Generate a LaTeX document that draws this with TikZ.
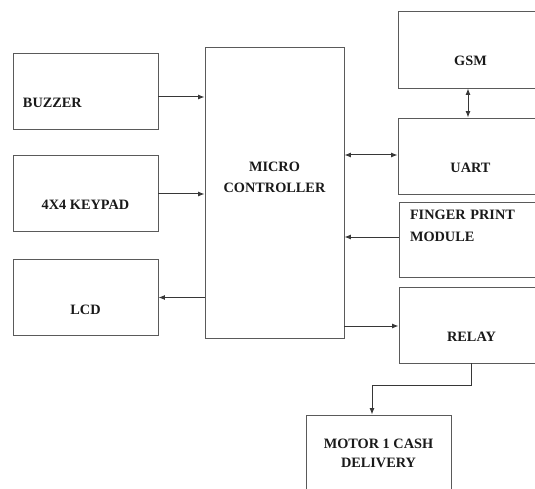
\documentclass[tikz,border=0pt]{standalone}
\usepackage{fontspec}
\setmainfont{Liberation Serif}
\usepackage{tikz}
\usetikzlibrary{arrows.meta, positioning, calc}
\definecolor{boxgray}{RGB}{90, 90, 90}
\definecolor{linegray}{RGB}{55, 55, 55}

\begin{document}
\begin{tikzpicture}[
  x=1pt, y=-1pt,
  blk/.style={draw=boxgray, line width=0.9pt, minimum width=145pt, minimum height=76pt, text height=36pt, text depth=3pt, inner sep=0pt, font=\bfseries\fontsize{14.3}{21}\selectfont, text=black!90},
  arr/.style={draw=linegray, line width=1pt, -{Latex[length=6.5pt, width=5pt]}},
  darr/.style={draw=linegray, line width=1pt, {Latex[length=6.5pt, width=5pt]}-{Latex[length=6.5pt, width=5pt]}}
]
  \useasboundingbox (0,0) rectangle (535,489);
  \node[blk, text width=125pt, align=left] (buzzer) at (85.5, 91) {BUZZER};
  \node[blk] (keypad) at (85.5, 193) {4X4 KEYPAD};
  \node[blk] (lcd) at (85.5, 297.5) {LCD};
  \node[blk, minimum width=139pt, minimum height=291pt, text height=31pt, text depth=31pt, align=center] (micro) at (274.5, 192.5) {MICRO\\CONTROLLER};
  \node[blk, minimum height=77pt] (gsm) at (470.5, 49.5) {GSM};
  \node[blk] (uart) at (470.5, 156) {UART};
  \node[blk, minimum height=75pt, text width=123pt, text height=10pt, text depth=50pt, align=left] (finger) at (471.5, 239.5) {FINGER PRINT\\[1pt]MODULE};
  \node[blk] (relay) at (471.5, 325) {RELAY};
  \node[blk, text height=32pt, text depth=3pt, align=center] (motor) at (378.5, 453) {MOTOR 1 CASH\\[-2pt]DELIVERY};

  \draw[arr] ([yshift=-6pt]buzzer.east) -- ([yshift=-6pt]buzzer.east -| micro.west);
  \draw[arr] ([yshift=-1pt]keypad.east) -- ([yshift=-1pt]keypad.east -| micro.west);
  \draw[arr] (lcd.east -| micro.west) -- (lcd.east);
  \draw[darr] ([yshift=1pt]uart.west -| micro.east) -- ([yshift=1pt]uart.west);
  \draw[darr] ([xshift=-2.5pt]gsm.south) -- ([xshift=-2.5pt]uart.north);
  \draw[arr] ([yshift=2.5pt]finger.west) -- ([yshift=2.5pt]finger.west -| micro.east);
  \draw[arr] ([yshift=-1pt]relay.west -| micro.east) -- ([yshift=-1pt]relay.west);
  \draw[arr] (relay.south) -- ++(0,22) -| ([xshift=-6.5pt]motor.north);
\end{tikzpicture}
\end{document}
